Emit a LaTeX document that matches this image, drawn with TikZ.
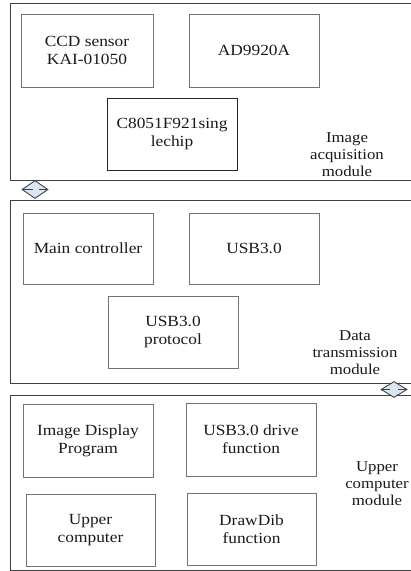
\documentclass[tikz,border=0pt]{standalone}
\usepackage{fontspec}
\setmainfont[FakeStretch=1.12]{Liberation Serif}
\usetikzlibrary{shapes.geometric}
\definecolor{arrowfill}{HTML}{DCE6F2}
\begin{document}
\begin{tikzpicture}[x=1pt,y=-1pt,
  font=\fontsize{15.5}{18}\selectfont,
  module/.style={draw=black!75, line width=1pt, minimum width=410pt, inner sep=0pt},
  inbox/.style={draw=black!55, line width=0.8pt, align=center, inner sep=0pt, text=black!90},
  darkbox/.style={inbox, draw=black!85},
  modlabel/.style={align=center, inner sep=0pt, text=black!90, font=\fontsize{15}{17}\selectfont},
  linkarrow/.style={diamond, draw=black!80, fill=arrowfill, line width=0.8pt, minimum width=26pt, minimum height=18pt, inner sep=0pt, aspect=1.45},
  arrowbar/.style={line width=1.6pt, draw=black!75}
]
\useasboundingbox (0,0) rectangle (411,571);
% modules
\node[module, minimum height=177pt] (m1) at (215,91.5) {};
\node[module, minimum height=183pt] (m2) at (215,291.5) {};
\node[module, minimum height=175pt] (m3) at (215,482.5) {};
% module 1
\node[inbox, minimum width=132pt, minimum height=73pt] (ccd) at (87,50.5) {CCD sensor\\KAI-01050};
\node[inbox, minimum width=130pt, minimum height=73pt] (ad) at (254,50.5) {AD9920A};
\node[darkbox, minimum width=130pt, minimum height=72pt] (mcu) at (172,134) {C8051F921sing\\lechip};
\node[modlabel] (l1) at (347,155) {Image\\acquisition\\module};
% module 2
\node[inbox, minimum width=130pt, minimum height=71pt] (mc) at (88,248.5) {Main controller};
\node[inbox, minimum width=130pt, minimum height=71pt] (usb) at (254,248.5) {USB3.0};
\node[inbox, minimum width=130pt, minimum height=72pt] (proto) at (173,332) {USB3.0\\protocol};
\node[modlabel] (l2) at (355,353) {Data\\transmission\\module};
% module 3
\node[inbox, minimum width=130pt, minimum height=73pt] (disp) at (88,440.5) {Image Display\\Program};
\node[inbox, minimum width=130pt, minimum height=73pt] (drv) at (251,439.5) {USB3.0 drive\\function};
\node[inbox, minimum width=129pt, minimum height=72pt] (uc) at (90.5,530) {Upper\\computer};
\node[inbox, minimum width=129pt, minimum height=72pt] (dd) at (251.5,529) {DrawDib\\function};
\node[modlabel] (l3) at (377,484) {Upper\\computer\\module};
% link arrows
\node[linkarrow] (a1) at (35,189.5) {};
\draw[arrowbar] (a1.west) -- ++(11,0);
\draw[arrowbar] (a1.east) -- ++(-9,0);
\node[linkarrow, minimum height=16pt] (a2) at (394,389.5) {};
\draw[arrowbar] (a2.west) -- ++(9,0);
\draw[arrowbar] (a2.east) -- ++(-9,0);
\end{tikzpicture}
\end{document}
